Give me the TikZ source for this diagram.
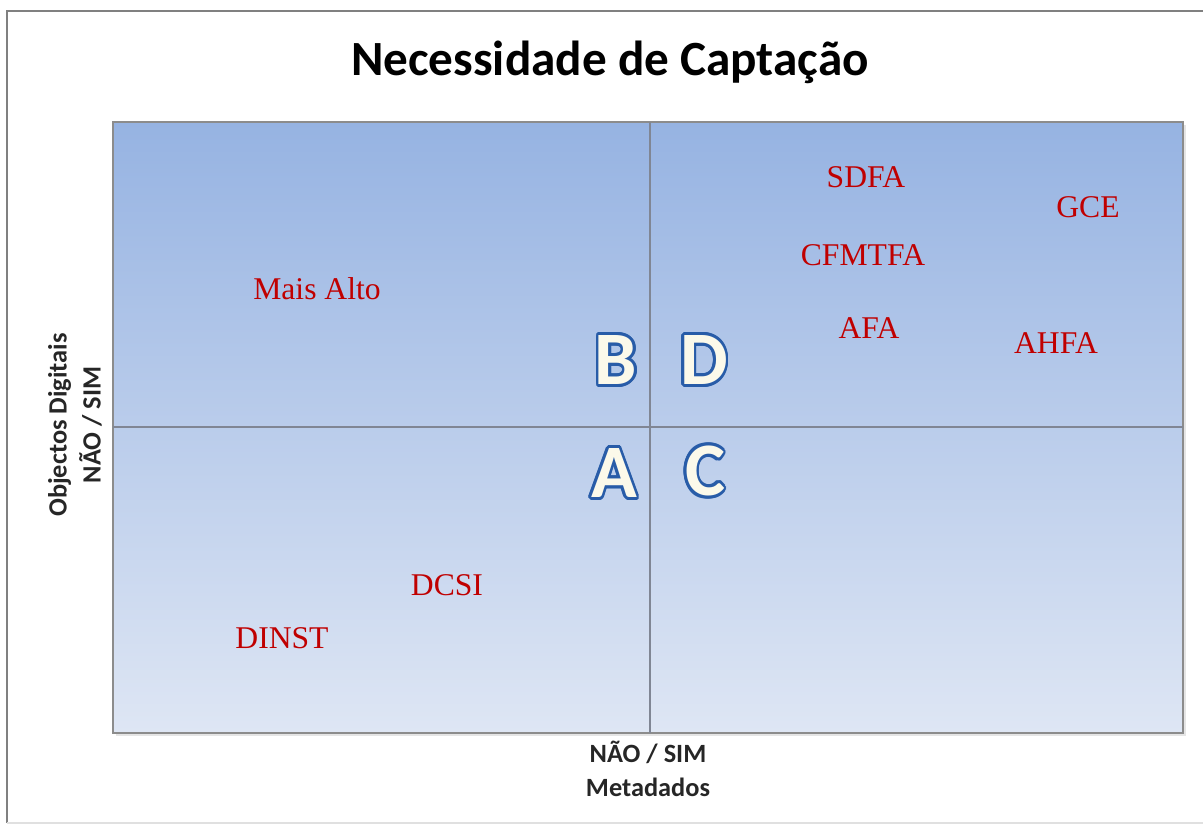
\documentclass[tikz,border=0pt]{standalone}
\usepackage{fontspec}
\setmainfont{Liberation Serif}
\newfontfamily\calib{Carlito}
\usepackage{tikz}
\usetikzlibrary{positioning,calc}
\definecolor{darkred}{RGB}{192,0,0}
\definecolor{plottop}{RGB}{150,179,226}
\definecolor{plotbot}{RGB}{222,230,244}
\definecolor{gridgray}{RGB}{128,134,148}
\definecolor{lettblue}{RGB}{40,92,168}
\definecolor{lettfill}{RGB}{251,249,234}

% letter with blue rim
\newcommand\rimletter[1]{%
  \rlap{\hspace*{1.4pt}\raisebox{-1.4pt}{\color{lettblue!35}#1}}%
  \foreach \ang in {0,22.5,...,337.5}{%
    \pgfmathsetlengthmacro\dx{1.6pt*cos(\ang)}%
    \pgfmathsetlengthmacro\dy{1.6pt*sin(\ang)}%
    \rlap{\hspace*{\dx}\raisebox{\dy}{\color{lettblue}#1}}}%
  {\color{lettfill}#1}}

\tikzset{
  quad/.style={font=\calib\bfseries\fontsize{43}{43}\selectfont, inner sep=0pt},
  unit/.style={text=darkred, font=\fontsize{18}{20}\selectfont, inner sep=1pt},
  axis/.style={font=\calib\bfseries\fontsize{15}{19.3}\selectfont, text=black!85, align=center}
}

\begin{document}
\begin{tikzpicture}
  \useasboundingbox (0,0) rectangle (24.06,16.54);
  % outer frame
  \draw[black!50, line width=1.2pt] (24.5,16.32) -- (0.14,16.32) -- (0.14,0.08);
  \draw[black!12, line width=0.6pt] (0.14,0.08) -- (24.5,0.08);

  \node (title) at (12.2,15.3) {\calib\bfseries\fontsize{28}{32}\selectfont Necessidade de Captação};

  % plot area
  \fill[black!10] (2.32,1.82) rectangle (23.72,14.04);
  \shade[top color=plottop, bottom color=plotbot] (2.26,1.88) rectangle (23.66,14.10);
  \draw[black!45, line width=0.8pt] (2.26,1.88) rectangle (23.66,14.10);
  \draw[gridgray, line width=0.8pt] (13.0,1.88) -- (13.0,14.10);
  \draw[gridgray, line width=0.8pt] (2.26,8.0) -- (23.66,8.0);

  % quadrant letters
  \node[quad] (qb) at (12.32,9.34) {\rimletter{B}};
  \node[quad] (qd) at (14.08,9.34) {\rimletter{D}};
  \node[quad] (qa) at (12.28,7.08) {\rimletter{A}};
  \node[quad] (qc) at (14.10,7.12) {\rimletter{C}};

  % units
  \node[unit] (sdfa) at (17.32,13.0) {SDFA};
  \node[unit] (gce) at (21.76,12.4) {GCE};
  \node[unit] (cfmtfa) at (17.26,11.44) {CFMTFA};
  \node[unit] (maisalto) at (6.34,10.76) {Mais Alto};
  \node[unit] (afa) at (17.38,9.98) {AFA};
  \node[unit] (ahfa) at (21.12,9.68) {AHFA};
  \node[unit] (dcsi) at (8.94,4.84) {DCSI};
  \node[unit] (dinst) at (5.64,3.78) {DINST};

  % axis titles
  \node[axis, rotate=90] (ylab) at (1.5,8.04) {Objectos Digitais\\NÃO / SIM};
  \node[axis] (xlab) at (12.96,1.16) {NÃO / SIM\\Metadados};
\end{tikzpicture}
\end{document}
